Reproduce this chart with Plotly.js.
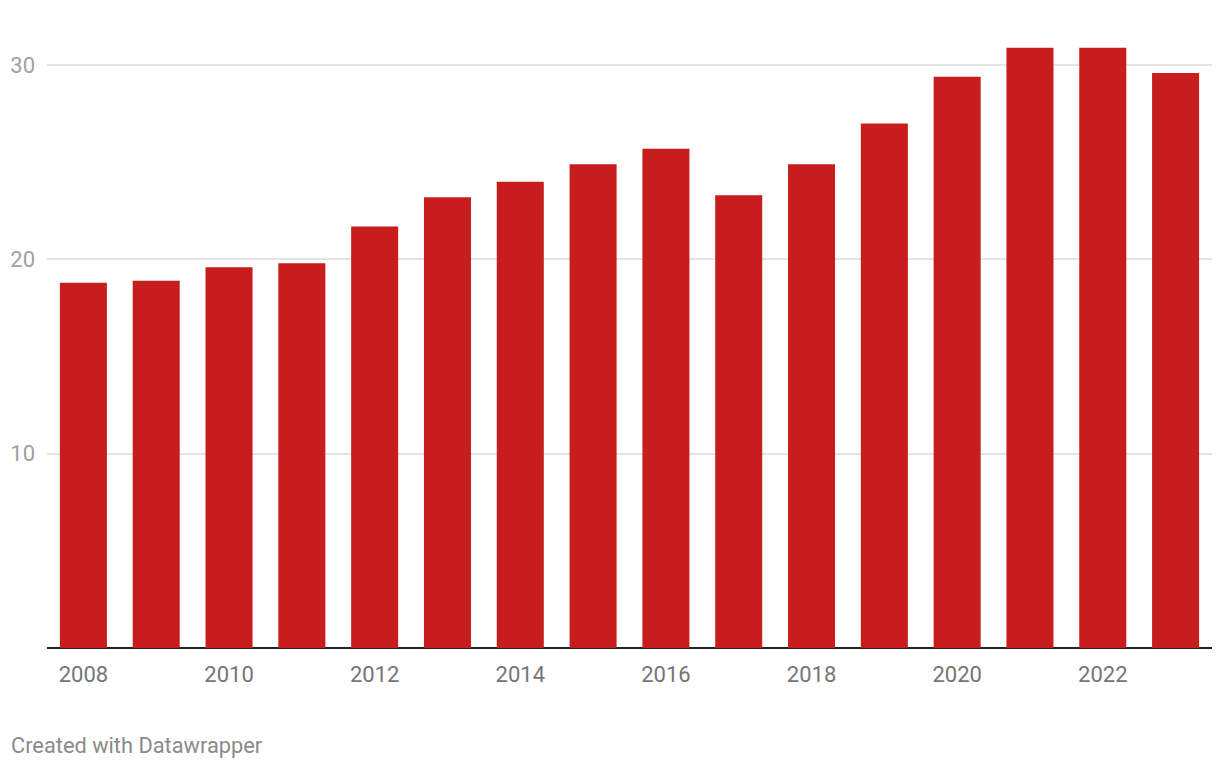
<!DOCTYPE html>
<html><head><meta charset="utf-8">
<script src="https://cdn.plot.ly/plotly-3.0.1.min.js"></script>
<style>html,body{margin:0;padding:0;background:#fff}#chart{width:1220px;height:770px}</style>
</head><body><div id="chart"></div>
<script>
const years = [2008,2009,2010,2011,2012,2013,2014,2015,2016,2017,2018,2019,2020,2021,2022,2023];
const values = [18.8,18.9,19.6,19.8,21.7,23.2,24.0,24.9,25.7,23.3,24.9,27.0,29.4,30.9,30.9,29.6];
const yTicks = [10,20,30];
const xTicks = [2008,2010,2012,2014,2016,2018,2020,2022];

const trace = {
  type:'bar', x:years, y:values,
  marker:{color:'#c71e1d'}, hoverinfo:'x+y'
};
const layout = {
  width:1220, height:770,
  margin:{l:47, r:8, t:36, b:122},
  paper_bgcolor:'#fff', plot_bgcolor:'#fff',
  bargap:0.354,
  font:{family:'Roboto, sans-serif'},
  xaxis:{
    range:[2007.5,2023.5], tickmode:'array', tickvals:xTicks, ticktext:xTicks.map(String),
    showgrid:false, zeroline:false, showline:false, ticks:'',
    tickfont:{size:22, color:'#757575'}, ticklabelstandoff:11
  },
  yaxis:{
    range:[0,31.5], tickmode:'array', tickvals:yTicks, ticktext:yTicks.map(String),
    showgrid:true, gridcolor:'#e4e4e4', gridwidth:2, zeroline:true, zerolinecolor:'#222', zerolinewidth:2,
    showline:false, ticks:'', tickfont:{size:22, color:'#a0a0a0'}, ticklabelstandoff:11
  },
  showlegend:false,
  annotations:[{
    text:'Created with Datawrapper', xref:'paper', yref:'paper', x:-38/1165, y:-98/612,
    xanchor:'left', yanchor:'middle', showarrow:false,
    font:{size:21.8, color:'#8a8a8a', family:'Roboto, sans-serif'}
  }]
};
Plotly.newPlot('chart',[trace],layout,{displayModeBar:false,staticPlot:true});
</script></body></html>
